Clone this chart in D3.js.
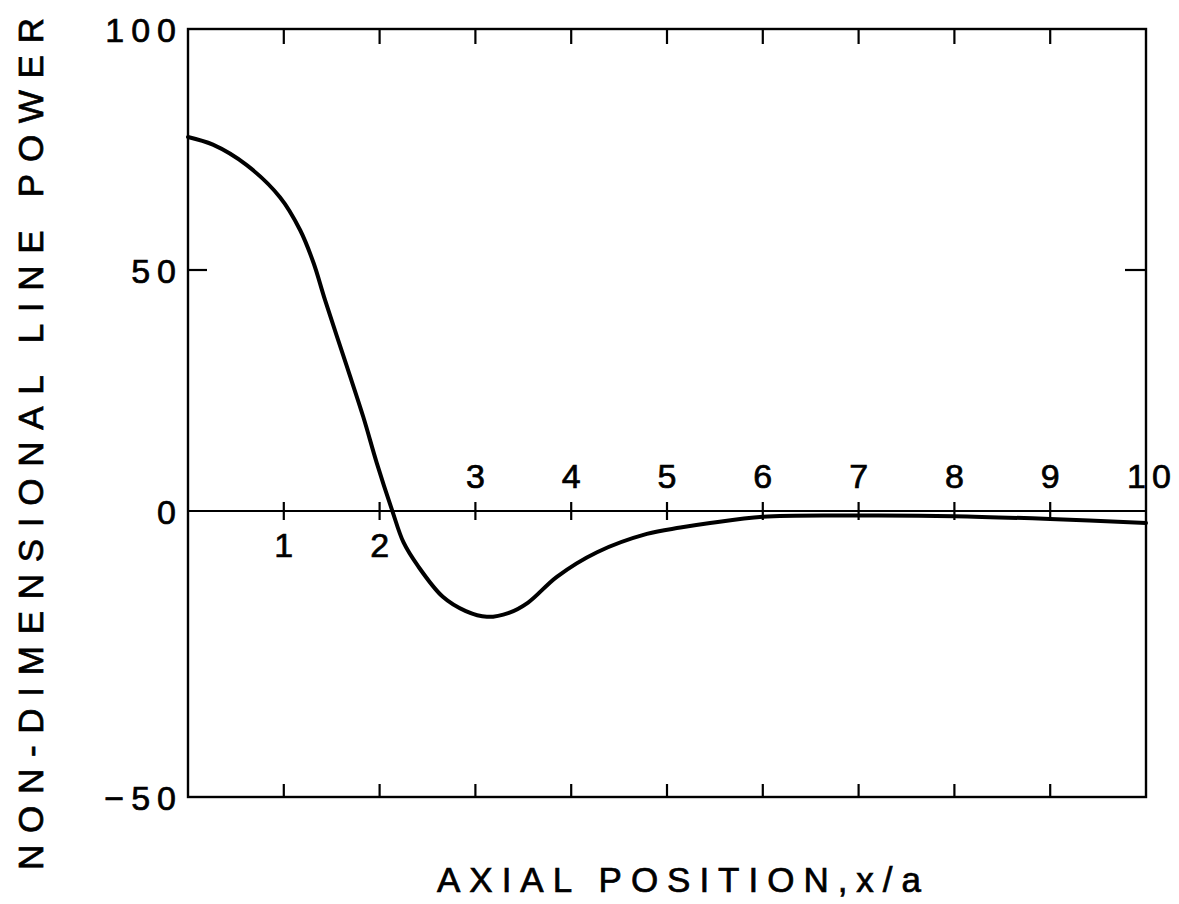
<!DOCTYPE html>
<html>
<head>
<meta charset="utf-8">
<script src="https://cdn.jsdelivr.net/npm/d3@7/dist/d3.min.js"></script>
<style>
  html, body { margin: 0; padding: 0; background: #fff; }
  svg { display: block; }
  text { font-family: "Liberation Sans", Arial, Helvetica, sans-serif; fill: #000; stroke: #000; stroke-width: 0.7px; }
</style>
</head>
<body>
<svg id="chart" width="1179" height="904"></svg>
<script>
// ---- data ----
const xPos = [0, 0.26, 0.61, 0.96, 1.17, 1.31, 1.43, 1.66, 1.83, 1.97, 2.13, 2.25, 2.4, 2.66, 2.9, 3.12, 3.35, 3.55, 3.85, 4.27, 4.79, 5.14, 5.45, 6.0, 7.0, 8.0, 9.0, 10.0];
const linePower = [77.6, 76.0, 71.8, 65.1, 58.3, 51.5, 43.8, 29.9, 19.5, 10.0, 0.2, -5.5, -9.6, -15.0, -17.5, -18.5, -17.8, -16.0, -11.5, -7.2, -4.0, -2.9, -2.1, -1.0, -0.8, -0.9, -1.4, -2.1];
const xTicksBelow = [1, 2];
const xTicksAbove = [3, 4, 5, 6, 7, 8, 9, 10];
const xTickMarks = [1, 2, 3, 4, 5, 6, 7, 8, 9];
const yTickLabels = [100, 50, 0, -50];
const xTitle = "AXIAL POSITION,x/a";
const yTitle = "NON-DIMENSIONAL LINE POWER";

// ---- layout ----
const pLeft = 188, pRight = 1146, pTop = 29, pBottom = 797, pZero = 511;
const svg = d3.select("#chart");

const x = d3.scaleLinear().domain([0, 10]).range([pLeft, pRight]);
const y = d3.scaleLinear().domain([-50, 0, 100]).range([pBottom, pZero, pTop]);

const g = svg.append("g");

// frame
g.append("rect")
  .attr("x", x(0)).attr("y", y(100))
  .attr("width", x(10) - x(0)).attr("height", y(-50) - y(100))
  .attr("fill", "none").attr("stroke", "#000").attr("stroke-width", 2.4);

// zero line
g.append("line")
  .attr("x1", x(0)).attr("x2", x(10)).attr("y1", y(0)).attr("y2", y(0))
  .attr("stroke", "#000").attr("stroke-width", 2);

// ticks: top (down), bottom (up), zero line (crossing)
const tk = g.append("g").attr("stroke", "#000").attr("stroke-width", 2.2);
xTickMarks.forEach(v => {
  tk.append("line").attr("x1", x(v)).attr("x2", x(v)).attr("y1", y(100)).attr("y2", y(100) + 15);
  tk.append("line").attr("x1", x(v)).attr("x2", x(v)).attr("y1", y(-50)).attr("y2", y(-50) - 13);
  tk.append("line").attr("x1", x(v)).attr("x2", x(v)).attr("y1", y(0) - 9).attr("y2", y(0) + 9);
});
// y ticks at 50 on left and right
tk.append("line").attr("x1", x(0)).attr("x2", x(0) + 19).attr("y1", y(50)).attr("y2", y(50));
tk.append("line").attr("x1", x(10)).attr("x2", x(10) - 21).attr("y1", y(50)).attr("y2", y(50));

// y tick labels
g.selectAll(".ylab").data(yTickLabels).enter().append("text")
  .attr("class", "ylab")
  .attr("x", 183)
  .attr("y", d => y(d) + 13)
  .attr("text-anchor", "end")
  .style("font-size", "34px")
  .style("letter-spacing", "7px")
  .text(d => d < 0 ? "\u2212" + Math.abs(d) : String(d));

// x tick labels
g.selectAll(".xlabB").data(xTicksBelow).enter().append("text")
  .attr("class", "xlabB")
  .attr("x", d => x(d))
  .attr("y", 557)
  .attr("text-anchor", "middle")
  .style("font-size", "34px")
  .text(d => d);
g.selectAll(".xlabA").data(xTicksAbove).enter().append("text")
  .attr("class", "xlabA")
  .attr("x", d => x(d) + (d === 10 ? 6 : 0))
  .attr("y", 488)
  .attr("text-anchor", "middle")
  .style("font-size", "34px")
  .style("letter-spacing", d => d === 10 ? "6px" : "0px")
  .text(d => d);

// curve
const line = d3.line().x((d, i) => x(xPos[i])).y(d => y(d)).curve(d3.curveCatmullRom.alpha(0.5));
g.append("path")
  .datum(linePower)
  .attr("d", line)
  .attr("fill", "none").attr("stroke", "#000").attr("stroke-width", 4)
  .attr("stroke-linejoin", "round").attr("stroke-linecap", "round");

// axis titles
g.append("text")
  .attr("x", 437).attr("y", 892)
  .attr("textLength", 484).attr("lengthAdjust", "spacing")
  .style("font-size", "35px")
  .text(xTitle);

g.append("text")
  .attr("transform", "translate(43,870) rotate(-90)")
  .attr("x", 0).attr("y", 0)
  .attr("textLength", 852).attr("lengthAdjust", "spacing")
  .style("font-size", "35px")
  .text(yTitle);
</script>
</body>
</html>
